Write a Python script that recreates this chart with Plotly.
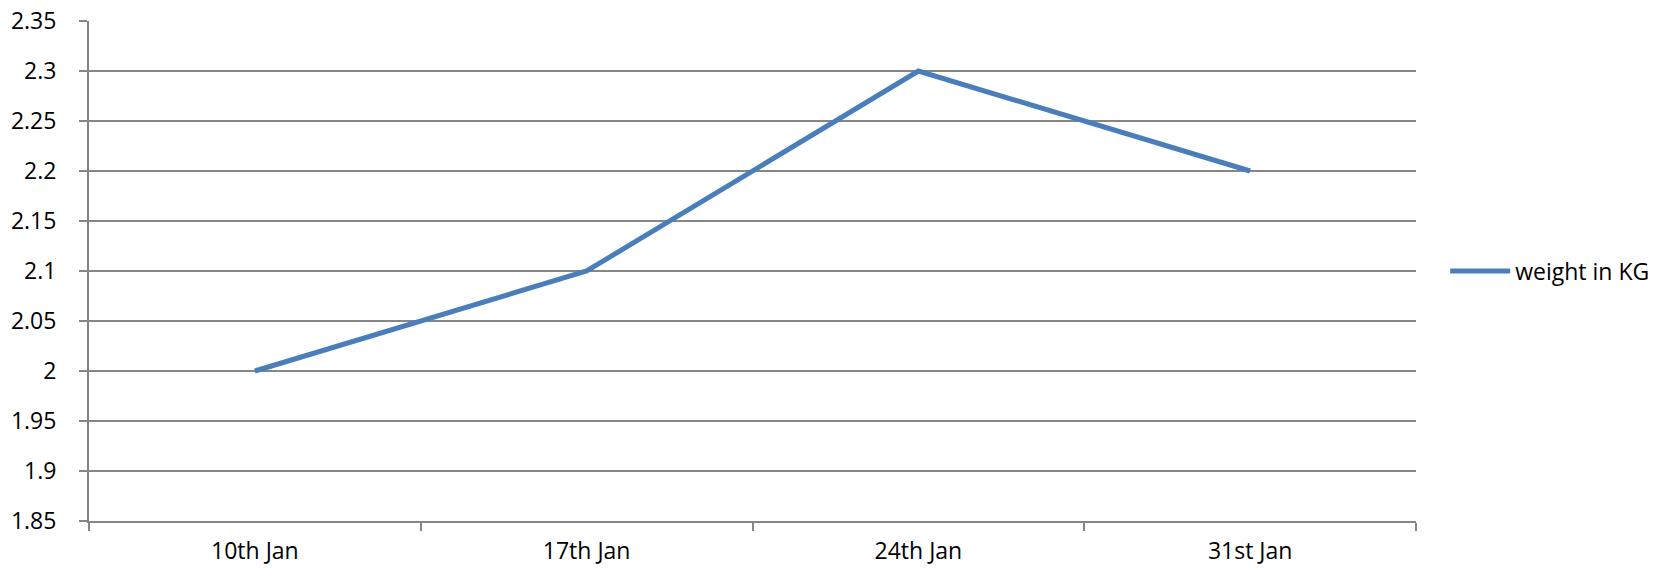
import plotly.graph_objects as go

# Weekly weight readings
dates = ["10th Jan", "17th Jan", "24th Jan", "31st Jan"]
weight_kg = [2.0, 2.1, 2.3, 2.2]
series_name = "weight in KG"

y_ticks = [1.85, 1.9, 1.95, 2.0, 2.05, 2.1, 2.15, 2.2, 2.25, 2.3, 2.35]
y_tick_text = ["1.85", "1.9", "1.95", "2", "2.05", "2.1", "2.15", "2.2", "2.25", "2.3", "2.35"]

grid = "#868686"
font = dict(family="Open Sans, Liberation Sans, sans-serif", size=23, color="#000000")

fig = go.Figure()
fig.add_trace(go.Scatter(
    x=dates, y=weight_kg, mode="lines", name=series_name,
    line=dict(color="#4A7EBB", width=5), showlegend=True,
))

fig.update_layout(
    width=1661, height=568,
    margin=dict(l=89, r=245, t=21, b=47, autoexpand=False),
    paper_bgcolor="white", plot_bgcolor="white",
    font=font,
    showlegend=True,
    legend=dict(x=1.022, y=0.5, xanchor="left", yanchor="middle",
                itemwidth=60, font=font, bgcolor="rgba(0,0,0,0)"),
)
fig.update_xaxes(
    type="category", range=[-0.5, 3.5], automargin=False,
    showline=True, linecolor=grid, linewidth=2,
    ticks="outside", tickson="boundaries", ticklen=8, tickcolor=grid, tickwidth=2,
    showgrid=False, zeroline=False,
    ticklabelstandoff=8,
)
fig.update_yaxes(
    range=[1.85, 2.35], tickvals=y_ticks, ticktext=y_tick_text, automargin=False,
    showline=True, linecolor=grid, linewidth=2,
    ticks="outside", ticklen=8, tickcolor=grid, tickwidth=2,
    showgrid=True, gridcolor=grid, gridwidth=1.5, zeroline=False,
    ticklabelstandoff=18,
)

fig.write_html("out.html")
